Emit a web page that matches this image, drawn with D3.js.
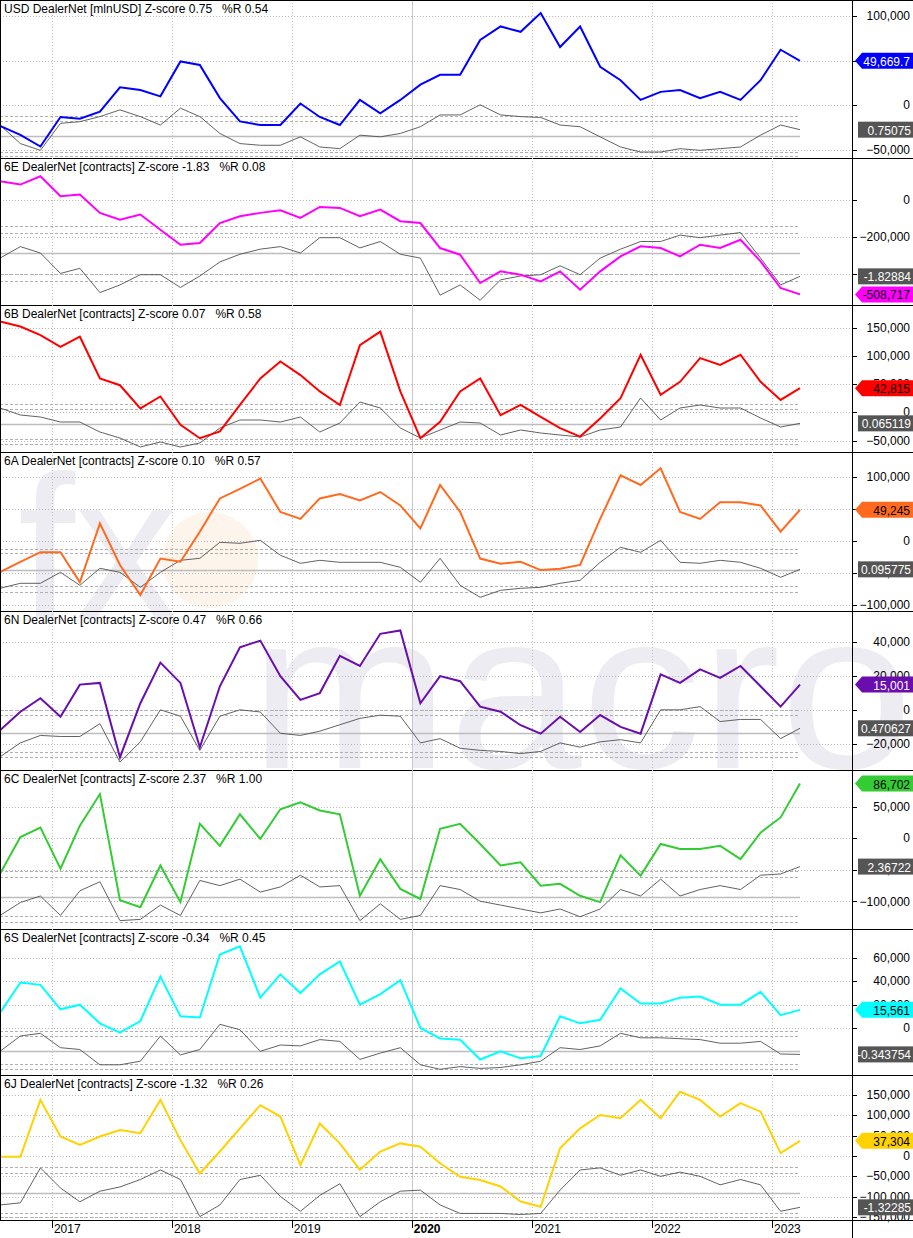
<!DOCTYPE html>
<html><head><meta charset="utf-8">
<script src="https://cdn.jsdelivr.net/npm/d3@7/dist/d3.min.js"></script>
<style>body{margin:0;background:#fff}svg{display:block}text{font-family:"Liberation Sans",Arial,sans-serif}.ttl{white-space:pre}</style>
</head><body><svg id="c" width="913" height="1238"></svg>
<script>
const dates = ["2016-07-27","2016-09-27","2016-11-27","2017-01-27","2017-03-27","2017-05-27","2017-07-27","2017-09-27","2017-11-27","2018-01-27","2018-03-27","2018-05-27","2018-07-27","2018-09-27","2018-11-27","2019-01-27","2019-03-27","2019-05-27","2019-07-27","2019-09-27","2019-11-27","2020-01-27","2020-03-27","2020-05-27","2020-07-27","2020-09-27","2020-11-27","2021-01-27","2021-03-27","2021-05-27","2021-07-27","2021-09-27","2021-11-27","2022-01-27","2022-03-27","2022-05-27","2022-07-27","2022-09-27","2022-11-27","2023-01-27","2023-03-27"];
const years = ["2017","2018","2019","2020","2021","2022","2023"];
// values in thousands
const usdNet = [-23,-33,-46,-13,-15,-7,20,17,10,49,45,8,-18,-22,-22,2,-13,-22,6,-9,6,23,34,34,73,88,82,103,65,88,43,28,6,15,17,8,15,6,28,62,49.6697];
const usdZ = [1.3,-0.9,-1.7,1.5,1.7,2.3,3.1,2.3,1.3,3.3,2.3,0.3,-0.9,-1.1,-1.1,-0.1,-1.3,-1.5,0.1,-0.1,0.3,1.1,2.5,2.5,3.7,2.5,2.3,2.2,1.3,1.1,-0.1,-1.3,-1.9,-1.9,-1.5,-1.7,-1.5,-1.3,0.1,1.3,0.75075];
const eurNet = [103,85,130,22,31,-68,-105,-77,-159,-240,-231,-123,-86,-68,-54,-95,-36,-41,-86,-50,-113,-123,-258,-294,-447,-384,-402,-438,-384,-483,-384,-303,-249,-258,-303,-240,-258,-213,-330,-474,-508.717];
const eurZ = [-0.4,0.5,0,-1.6,-1.2,-3.1,-2.5,-1.7,-1.7,-2.7,-1.8,-0.7,-0.1,0.3,0.5,0,1.2,1.2,0.4,0.9,-0.1,-0.4,-3.3,-2.5,-3.7,-2.1,-1.8,-1.7,-1.0,-1.7,-0.4,0.3,0.9,0.9,1.4,1.2,1.4,1.6,-0.4,-2.5,-1.82884];
const gbpNet = [161,152,137,116,134,60,48,7,28,-22,-46,-34,13,60,90,66,37,13,119,143,37,-46,-17,37,60,-5,13,-8,-28,-43,-11,25,102,31,54,96,84,102,54,22,42.815];
const gbpZ = [1.6,0.9,0.7,0.2,0.2,-0.8,-1.4,-2.3,-1.8,-2.3,-1.9,-0.4,0.4,0.4,0.2,0.7,-0.8,0.1,2.2,1.6,-0.4,-1.4,-0.6,0.2,0.1,-1.1,-0.6,-0.9,-1.1,-1.3,-0.6,-0.3,2.6,0.4,1.6,1.9,1.6,1.6,0.6,-0.3,0.065119];
const audNet = [-48,-32,-17,-17,-64,28,-37,-84,-27,-32,15,67,82,98,46,35,67,74,64,77,56,20,88,46,-27,-35,-32,-45,-43,-37,35,103,88,114,46,35,61,61,56,15,49.245];
const audZ = [-1.8,-1.3,-1.3,-0.2,-1.5,0.2,-0.2,-1.7,-0.2,1.0,1.2,2.8,2.7,3.0,1.5,0.7,1.0,0.8,0.8,0.8,0.3,-1.2,1.2,-1.5,-2.7,-2.0,-1.8,-1.7,-1.3,-1.0,0.8,2.3,1.8,3.0,0.8,0.7,1.0,0.8,0.2,-0.7,0.095775];
const nzdNet = [-12,-1,7,-4,15,16,-28,4,28,16,-22,14,37,41,20,6,10,32,26,45,47,4,20,17,2,-1,-9,-14,-4,-13,-3,-10,-14,21,16,24,19,26,14,2,15.001];
const nzdZ = [-2.2,-0.9,-0.2,-0.3,-0.3,0.9,-2.7,-0.8,2.2,1.6,-1.6,1.6,2.2,2.0,0,-0.2,0.2,0.8,1.4,1.7,1.6,-0.9,-0.5,-1.4,-1.6,-1.7,-1.9,-1.7,-0.9,-1.3,-0.8,-0.6,-0.9,2.2,2.2,2.5,1.1,1.3,1.3,-0.5,0.470627];
const cadNet = [-56,2,17,-48,20,70,-98,-109,-43,-101,23,-12,38,-1,46,57,44,38,-91,-33,-80,-96,15,23,-9,-43,-38,-75,-72,-91,-101,-27,-59,-9,-17,-17,-12,-33,9,33,86.702];
const cadZ = [-1.4,-0.4,0.1,-1.4,0.5,1.2,-1.8,-1.7,-0.6,-1.4,1.3,0.9,1.4,0.4,0.8,1.7,0.8,0.9,-1.8,-0.5,-1.7,-1.4,0.9,0.6,-0.3,-0.6,-0.9,-1.2,-0.9,-1.5,-0.9,0.6,0.1,1.4,0.1,0.6,0.9,0.6,1.7,1.8,2.36722];
const chfNet = [13,39,37,16,20,4,-4,6,44,10,9,63,70,26,46,30,46,57,20,29,41,0,-9,-10,-27,-20,-26,-24,10,4,7,34,21,21,26,27,20,20,31,11,15.561];
const chfZ = [0,1.7,2.0,0.4,0.2,-1.5,-1.5,-1.1,1.7,-0.4,0.2,3.0,2.4,0,0.7,0.6,1.3,1.1,-0.9,-0.2,0.4,-1.5,-2.0,-1.7,-1.9,-1.8,-1.5,-1.1,0.4,0.2,0.6,2.0,1.5,1.5,1.4,1.3,0.9,0.9,1.1,-0.3,-0.343754];
const jpyNet = [-2,-2,138,48,27,48,64,56,138,39,-43,11,68,125,97,-22,80,31,-34,11,31,23,-18,-51,-59,-75,-112,-125,19,68,101,93,138,93,158,138,97,130,109,7,37.304];
const jpyZ = [-1.1,-0.9,2.4,0.5,-0.8,0.2,0.6,1.3,2.2,1.3,-2.2,-1.1,1.3,1.7,-0.3,-1.7,-0.2,0.9,-2.2,-0.8,0.2,0.3,-1.1,-1.9,-1.9,-1.9,-2.0,-1.9,0.3,2.2,2.4,1.7,2.2,1.6,2.0,1.6,0.8,1.3,0.8,-1.7,-1.32285];

const panels = [
 {title:"USD DealerNet [mlnUSD] Z-score 0.75   %R 0.54", net:usdNet, z:usdZ, last:"49,669.7", zlast:"0.75075", color:"#0000ff", tagText:"#fff",
  top:0, bot:158, v:[100,0], y:[15.7,105.3], ticks:[100,50,0,-50], z0:136, zu:8.43, dash:[2.33,1.74,-1.86,-2.41]},
 {title:"6E DealerNet [contracts] Z-score -1.83   %R 0.08", net:eurNet, z:eurZ, last:"-508,717", zlast:"-1.82884", color:"#ff00ff", tagText:"#000",
  top:158, bot:305, v:[0,-200], y:[200.3,237.3], ticks:[0,-200,-400], z0:253, zu:12.77, dash:[2.09,1.54,-1.64,-2.22]},
 {title:"6B DealerNet [contracts] Z-score 0.07   %R 0.58", net:gbpNet, z:gbpZ, last:"42,815", zlast:"0.065119", color:"#ff0000", tagText:"#000",
  top:305, bot:452, v:[150,0], y:[327.7,412.3], ticks:[150,100,50,0,-50], z0:424, zu:10, dash:[2.0,1.5,-1.53,-2.03]},
 {title:"6A DealerNet [contracts] Z-score 0.10   %R 0.57", net:audNet, z:audZ, last:"49,245", zlast:"0.095775", color:"#ff6a1f", tagText:"#000",
  top:452, bot:611, v:[100,0], y:[477.3,541.3], ticks:[100,50,0,-50,-100], z0:570.3, zu:10, dash:[2.17,1.73,-1.6,-2.17]},
 {title:"6N DealerNet [contracts] Z-score 0.47   %R 0.66", net:nzdNet, z:nzdZ, last:"15,001", zlast:"0.470627", color:"#6a0dad", tagText:"#fff",
  top:611, bot:770, v:[40,0], y:[642.3,710], ticks:[40,20,0,-20], z0:733.3, zu:10.67, dash:[2.19,1.72,-1.72,-2.25]},
 {title:"6C DealerNet [contracts] Z-score 2.37   %R 1.00", net:cadNet, z:cadZ, last:"86,702", zlast:"2.36722", color:"#33cc33", tagText:"#000",
  top:770, bot:929, v:[50,0], y:[806.7,838.3], ticks:[50,0,-50,-100], z0:897.3, zu:12.97, dash:[2.06,1.54,-1.47,-1.93]},
 {title:"6S DealerNet [contracts] Z-score -0.34   %R 0.45", net:chfNet, z:chfZ, last:"15,561", zlast:"-0.343754", color:"#00ffff", tagText:"#000",
  top:929, bot:1075, v:[60,0], y:[958,1028], ticks:[60,40,20,0], z0:1051.3, zu:9, dash:[2.22,1.74,-1.41,-1.93]},
 {title:"6J DealerNet [contracts] Z-score -1.32   %R 0.26", net:jpyNet, z:jpyZ, last:"37,304", zlast:"-1.32285", color:"#ffd200", tagText:"#000",
  top:1075, bot:1220, v:[150,0], y:[1095,1156], ticks:[150,100,50,0,-50,-100,-150], z0:1193.3, zu:10.6, dash:[2.45,1.89,-1.82,-2.2]}
];

const svg = d3.select("#c");
const W = 913, PR = 852;
const parse = d3.timeParse("%Y-%m-%d");
const x = d3.scaleTime().domain([parse(dates[0]), parse(dates[dates.length-1])]).range([0, 800]);
const yearDates = years.map(y => parse(y + "-01-01"));
const fmt = d3.format(",");

const wm = svg.append("g");
wm.append("circle").attr("cx",210).attr("cy",560).attr("r",48).attr("fill","#fdf1e6").attr("opacity",0.8);
wm.append("text").attr("x",18).attr("y",618).attr("font-size",205).attr("fill","#ececf2").text("fx");
wm.append("text").attr("x",250).attr("y",768).attr("font-size",225).attr("textLength",663).attr("lengthAdjust","spacingAndGlyphs").attr("fill","#ececf2").text("macro");

panels.forEach((p, pi) => {
  const g = svg.append("g");
  const y = d3.scaleLinear().domain(p.v).range(p.y);
  const yz = d3.scaleLinear().domain([0,1]).range([p.z0, p.z0 - p.zu]);
  const clipId = "clip" + pi;
  svg.append("clipPath").attr("id", clipId).append("rect").attr("x",0).attr("y",p.top+1).attr("width",PR).attr("height",p.bot-p.top-1);
  g.selectAll(".vg").data(yearDates).join("line")
    .attr("x1", d => Math.round(x(d))+0.5).attr("x2", d => Math.round(x(d))+0.5)
    .attr("y1", p.top).attr("y2", p.bot)
    .attr("stroke", (d,i) => years[i]==="2020" ? "#c8c8c8" : "#c0c0c0")
    .attr("stroke-dasharray", (d,i) => years[i]==="2020" ? null : "1,2");
  const tk = p.ticks.filter(t => y(t) > p.top + 4 && y(t) < p.bot - 2);
  g.selectAll(".hg").data(tk).join("line")
    .attr("x1",0).attr("x2",PR).attr("y1", d => Math.round(y(d))+0.5).attr("y2", d => Math.round(y(d))+0.5)
    .attr("stroke","#b8b8b8").attr("stroke-dasharray","1,2");
  g.selectAll(".tk").data(tk).join("line")
    .attr("x1",PR).attr("x2",PR+5).attr("y1", d => Math.round(y(d))+0.5).attr("y2", d => Math.round(y(d))+0.5).attr("stroke","#000");
  g.selectAll(".tl").data(tk).join("text")
    .attr("x", W-3).attr("y", d => y(d)+4).attr("text-anchor","end").attr("font-size",12).attr("fill","#000")
    .text(d => fmt(d*1000));
  const xEnd = x(parse(dates[dates.length-1]));
  g.selectAll(".zd").data(p.dash).join("line")
    .attr("x1",0).attr("x2",xEnd).attr("y1", d => Math.round(yz(d))+0.5).attr("y2", d => Math.round(yz(d))+0.5)
    .attr("stroke","#b0b0b0").attr("stroke-dasharray","3,2");
  g.append("line").attr("x1",0).attr("x2",xEnd).attr("y1",Math.round(p.z0)+0.5).attr("y2",Math.round(p.z0)+0.5)
    .attr("stroke","#bdbdbd").attr("stroke-width",1.5);
  const lz = d3.line().x((d,i) => x(parse(dates[i]))).y(d => yz(d));
  const ln = d3.line().x((d,i) => x(parse(dates[i]))).y(d => y(d));
  const cg = g.append("g").attr("clip-path", `url(#${clipId})`);
  cg.append("path").attr("d", lz(p.z)).attr("fill","none").attr("stroke","#505050").attr("stroke-width",0.9);
  cg.append("path").attr("d", ln(p.net)).attr("fill","none").attr("stroke",p.color).attr("stroke-width",2);
  g.append("text").attr("class","ttl").attr("xml:space","preserve").attr("x",4).attr("y",p.top+13).attr("font-size",12).attr("fill","#000").text(p.title);
  const zy = yz(p.z[p.z.length-1]);
  g.append("rect").attr("x",858).attr("y",zy-8).attr("width",55).attr("height",16).attr("fill","#555");
  g.append("text").attr("x",W-2).attr("y",zy+5).attr("text-anchor","end").attr("font-size",12).attr("fill","#fff").text(p.zlast);
  let vy = y(p.net[p.net.length-1]);
  vy = Math.min(Math.max(vy, p.top+9), p.bot-9);
  g.append("path").attr("d",`M855,${vy} L862,${vy-8} L913,${vy-8} L913,${vy+8} L862,${vy+8} Z`).attr("fill",p.color);
  g.append("text").attr("x",W-3).attr("y",vy+5).attr("text-anchor","end").attr("font-size",12).attr("fill",p.tagText).text(p.last);
  g.append("line").attr("x1",0).attr("x2",W).attr("y1",p.bot+0.5).attr("y2",p.bot+0.5).attr("stroke","#000");
});
svg.append("line").attr("x1",0).attr("x2",W).attr("y1",0.5).attr("y2",0.5).attr("stroke","#000");
svg.append("line").attr("x1",PR+0.5).attr("x2",PR+0.5).attr("y1",0).attr("y2",1238).attr("stroke","#000");
svg.append("line").attr("x1",0.5).attr("x2",0.5).attr("y1",0).attr("y2",1220).attr("stroke","#000");
const xa = svg.append("g");
xa.selectAll("line").data(yearDates).join("line")
  .attr("x1", d => Math.round(x(d))+0.5).attr("x2", d => Math.round(x(d))+0.5).attr("y1",1220).attr("y2",1228).attr("stroke","#000");
xa.selectAll("text").data(yearDates).join("text")
  .attr("x", d => x(d)+2).attr("y",1233).attr("font-size",12)
  .attr("font-weight",(d,i) => years[i]==="2020" ? "bold" : "normal").text((d,i) => years[i]);
</script></body></html>
